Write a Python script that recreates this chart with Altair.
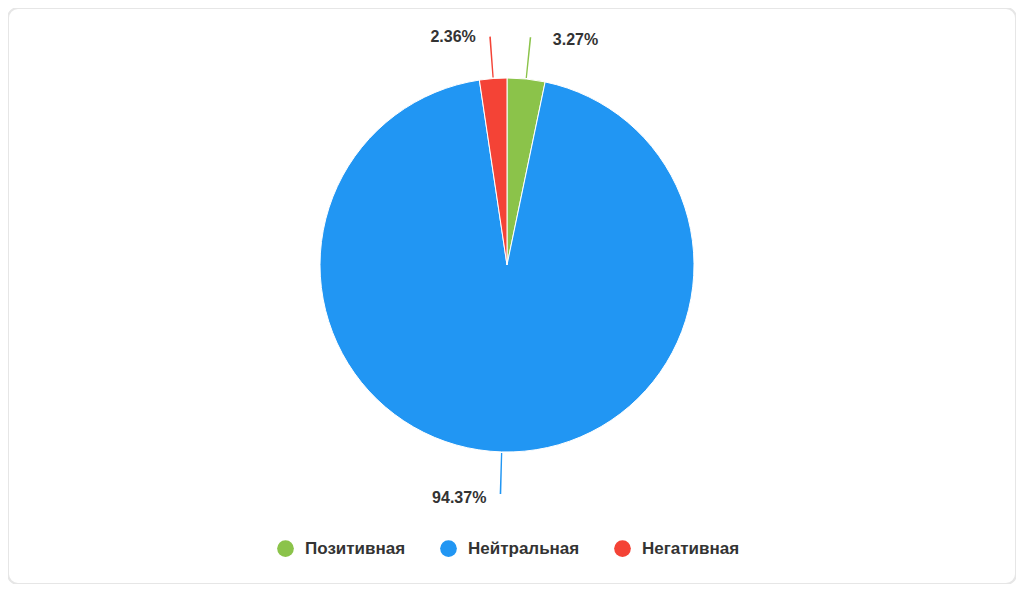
import altair as alt
import pandas as pd

categories = ["Позитивная", "Нейтральная", "Негативная"]
values = [3.27, 94.37, 2.36]
colors = ["#8BC34A", "#2196F3", "#F44336"]
order = [0, 1, 2]

df = pd.DataFrame({"category": categories, "value": values, "order": order})

FONT = "Liberation Sans"
CX, CY, R = 499, 257, 187

color = alt.Color(
    "category:N",
    scale=alt.Scale(domain=categories, range=colors),
    legend=alt.Legend(
        title=None,
        orient="none",
        legendX=269,
        legendY=532,
        direction="horizontal",
        symbolType="circle",
        symbolSize=280,
        symbolStrokeWidth=0,
        labelFont=FONT,
        labelFontSize=17,
        labelFontWeight="bold",
        labelColor="#333333",
        labelOffset=11,
        columnPadding=34,
        labelLimit=400,
    ),
)

base = (
    alt.Chart(df)
    .transform_joinaggregate(total="sum(value)")
    .transform_window(cum="sum(value)", sort=[alt.SortField("order")], frame=[None, 0])
    .transform_calculate(start="(datum.cum - datum.value) / datum.total * 2 * PI")
    .transform_calculate(end="datum.cum / datum.total * 2 * PI")
    .transform_calculate(mid="(datum.start + datum.end) / 2")
    .transform_calculate(mid_a="datum.mid - 0.0035")
    .transform_calculate(mid_b="datum.mid + 0.0035")
    .transform_calculate(label="format(datum.value, '.2f') + '%'")
)

pie = base.mark_arc(outerRadius=R, stroke="white", strokeWidth=1).encode(
    theta=alt.Theta("start:Q", scale=None),
    theta2="end:Q",
    color=color,
    x=alt.value(CX),
    y=alt.value(CY),
)

connectors = base.mark_arc(radius=R + 1, radius2=R + 42).encode(
    theta=alt.Theta("mid_a:Q", scale=None),
    theta2="mid_b:Q",
    color=alt.Color("category:N", scale=alt.Scale(domain=categories, range=colors), legend=None),
    x=alt.value(CX),
    y=alt.value(CY),
)

def label_layer(cat, align, dx, dy):
    return (
        base.transform_filter(alt.datum.category == cat)
        .mark_text(
            radius=232,
            align=align,
            baseline="middle",
            dx=dx,
            dy=dy,
            font=FONT,
            fontSize=16,
            fontWeight="bold",
            color="#333333",
        )
        .encode(
            theta=alt.Theta("mid:Q", scale=None),
            text="label:N",
            x=alt.value(CX),
            y=alt.value(CY),
        )
    )

labels = [
    label_layer("Позитивная", "left", 22, 6),
    label_layer("Негативная", "right", -14, 3),
    label_layer("Нейтральная", "right", -14, 1),
]

chart = (
    alt.layer(pie, connectors, *labels)
    .properties(width=1008, height=576, padding=0, background="white")
    .configure_view(stroke="#e6e6e6", strokeWidth=2, cornerRadius=10)
)

chart.save("out.html", embed_options={"renderer": "svg", "actions": False})
